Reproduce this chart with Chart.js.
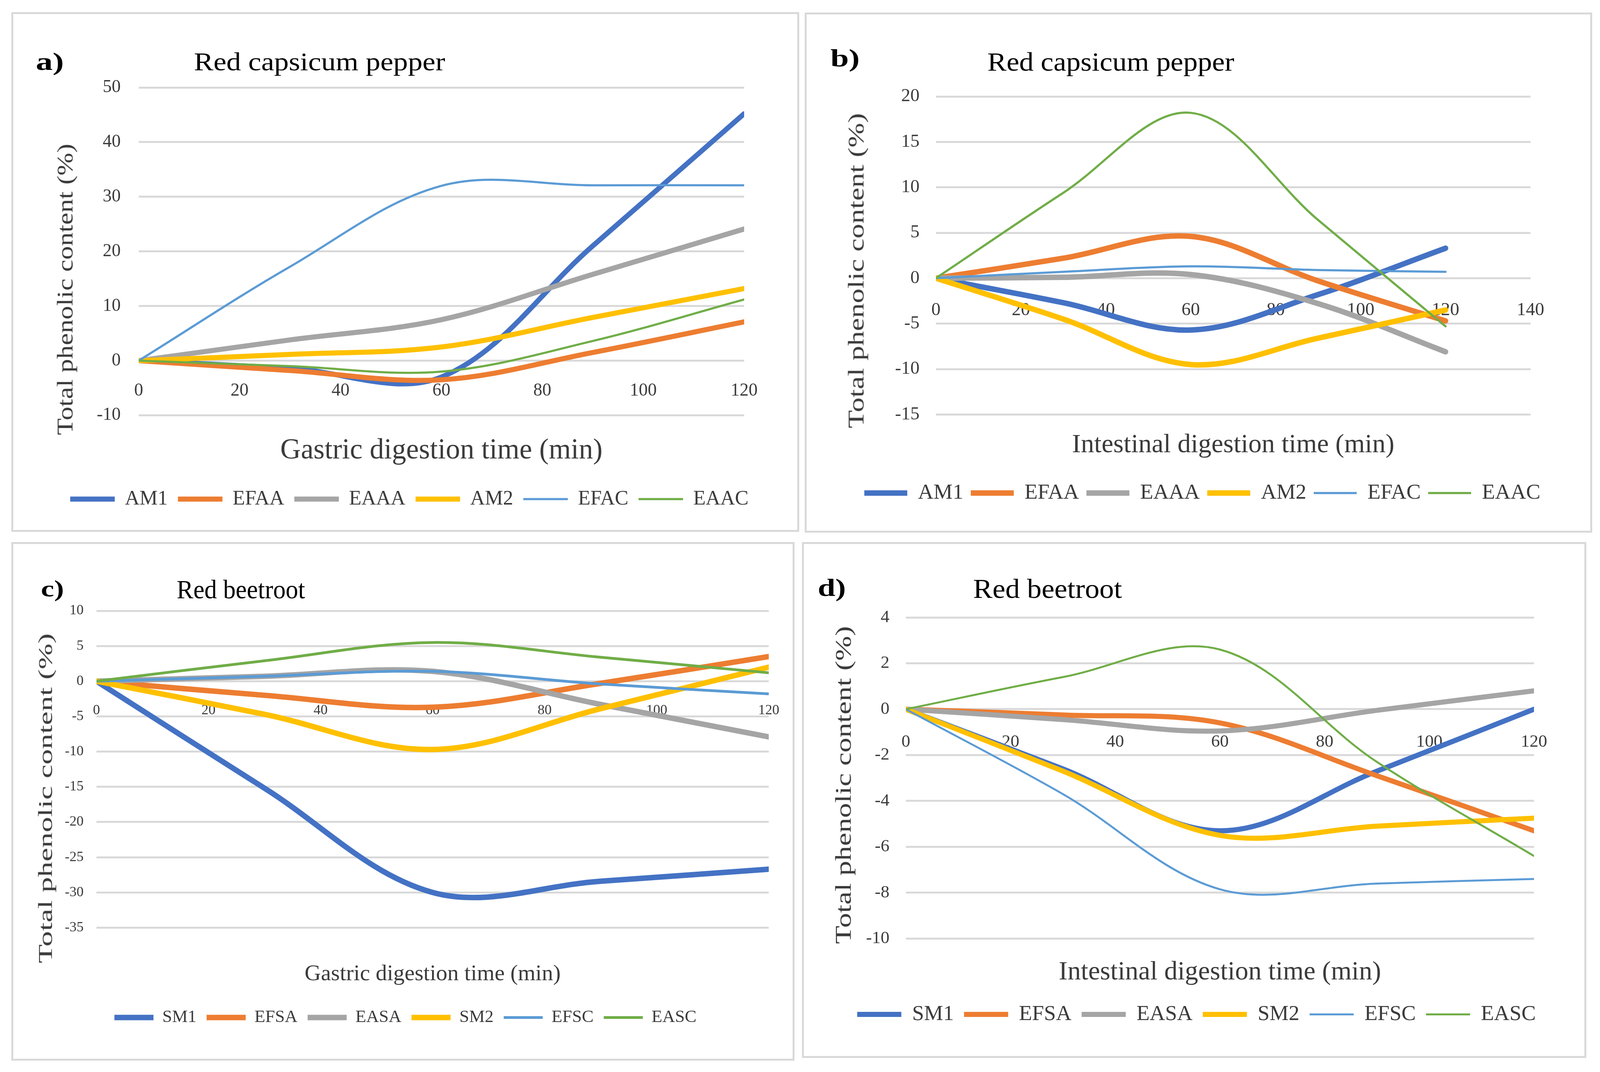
<!DOCTYPE html>
<html><head><meta charset="utf-8">
<script src="https://cdn.jsdelivr.net/npm/chart.js@4.4.1/dist/chart.umd.min.js"></script>
<style>
html,body{margin:0;padding:0;background:#fff;}
body{width:4107px;height:2745px;position:relative;overflow:hidden;font-family:"Liberation Serif",serif;}
.panel{position:absolute;box-sizing:border-box;border:5px solid #d9d9d9;}
canvas{position:absolute;}
.lbl{position:absolute;white-space:nowrap;text-align:center;transform-origin:50% 50%;font-family:"Liberation Serif",serif;}
</style></head><body>
<script>
// ---------------- data ----------------
const TIME_MIN = [0, 30, 60, 90, 120];
const SERIES_PEPPER = ['AM1', 'EFAA', 'EAAA', 'AM2', 'EFAC', 'EAAC'];
const SERIES_BEET = ['SM1', 'EFSA', 'EASA', 'SM2', 'EFSC', 'EASC'];

// a) Red capsicum pepper - gastric
const A_AM1  = [0, -1.4, -3.0, 21.0, 45.2];
const A_EFAA = [0, -1.8, -3.5, 1.5, 7.1];
const A_EAAA = [0, 3.8, 7.5, 15.8, 24.1];
const A_AM2  = [0, 1.15, 2.5, 7.9, 13.2];
const A_EFAC = [0, 17.2, 32.0, 32.1, 32.1];
const A_EAAC = [0, -1.0, -2.0, 3.6, 11.2];

// b) Red capsicum pepper - intestinal
const B_AM1  = [0, -2.7, -5.7, -1.8, 3.3];
const B_EFAA = [0, 2.2, 4.6, -0.3, -4.7];
const B_EAAA = [0, 0.1, 0.4, -2.8, -8.1];
const B_AM2  = [0, -4.5, -9.5, -6.6, -3.5];
const B_EFAC = [0, 0.7, 1.3, 0.9, 0.7];
const B_EAAC = [0, 9.4, 18.2, 6.4, -5.3];

// c) Red beetroot - gastric
const C_SM1  = [0, -15.2, -30.0, -28.4, -26.7];
const C_EFSA = [0, -2.0, -3.7, -0.3, 3.5];
const C_EASA = [0, 0.7, 1.4, -3.3, -7.9];
const C_SM2  = [0, -4.7, -9.7, -3.9, 2.0];
const C_EFSC = [0, 0.7, 1.4, -0.4, -1.8];
const C_EASC = [0, 2.9, 5.5, 3.4, 1.2];

// d) Red beetroot - intestinal
const D_SM1  = [0, -2.6, -5.3, -2.7, 0.0];
const D_EFSA = [0, -0.25, -0.6, -2.9, -5.3];
const D_EASA = [0, -0.45, -0.95, -0.05, 0.8];
const D_SM2  = [0, -2.7, -5.5, -5.1, -4.75];
const D_EFSC = [0, -3.7, -7.85, -7.6, -7.4];
const D_EASC = [0, 1.4, 2.6, -2.3, -6.4];

const Y_TITLE = 'Total phenolic content (%)';
const X_GASTRIC = 'Gastric digestion time (min)';
const X_INTEST = 'Intestinal digestion time (min)';

// ---------------- styles / layout ----------------
const COLORS = ['#4472C4', '#ED7D31', '#A5A5A5', '#FFC000', '#5B9BD5', '#70AD47'];
const TEXT = '#3b3b3b';
Chart.defaults.font.family = '"Liberation Serif", serif';

const PANELS = [
  { box: [29, 31, 2017, 1331], names: SERIES_PEPPER,
    values: [A_AM1, A_EFAA, A_EAAA, A_AM2, A_EFAC, A_EAAC],
    yMin: -10, yMax: 50, yStep: 10, xMax: 120,
    pad: {left: 51, top: 193, right: 30, bottom: 48}, yWidth: 275, xPadRight: 141, yTickPad: 46,
    tickFont: 46, xTickPad: 42, legendFont: 52, legendLine: 114, legendPad: 26,
    xTitle: X_GASTRIC, xTitleFont: 73, xTitlePad: {top: 48, bottom: 27},
    thick: 13, thin: 5.5,
    tag: {t: 'a)', cx: 128, cy: 158, w: 72, size: 64},
    title: {t: 'Red capsicum pepper', cx: 818, cy: 158, w: 643, size: 66},
    ytitle: {cx: 167, cy: 741, w: 746, size: 58} },
  { box: [2060, 32, 2016, 1332], names: SERIES_PEPPER,
    values: [B_AM1, B_EFAA, B_EAAA, B_AM2, B_EFAC, B_EAAC],
    yMin: -15, yMax: 20, yStep: 5, xMax: 140,
    pad: {left: 50, top: 215, right: 30, bottom: 64}, yWidth: 286, xPadRight: 158, yTickPad: 42,
    tickFont: 47, xTickPad: 46, legendFont: 55, legendLine: 110, legendPad: 19,
    xTitle: X_INTEST, xTitleFont: 68, xTitlePad: {top: 38, bottom: 35},
    thick: 14, thin: 5.5,
    tag: {t: 'b)', cx: 2163, cy: 149, w: 75, size: 64},
    title: {t: 'Red capsicum pepper', cx: 2844, cy: 158, w: 632, size: 68},
    ytitle: {cx: 2192, cy: 693, w: 807, size: 58} },
  { box: [29, 1388, 2005, 1328], names: SERIES_BEET,
    values: [C_SM1, C_EFSA, C_EASA, C_SM2, C_EFSC, C_EASC],
    yMin: -35, yMax: 10, yStep: 5, xMax: 120,
    pad: {left: 43, top: 176, right: 30, bottom: 78}, yWidth: 175, xPadRight: 66, yTickPad: 33,
    tickFont: 36, xTickPad: 46, legendFont: 45, legendLine: 100, legendPad: 26,
    xTitle: X_GASTRIC, xTitleFont: 58, xTitlePad: {top: 85, bottom: 27},
    thick: 14, thin: 7,
    tag: {t: 'c)', cx: 134, cy: 1507, w: 59, size: 60},
    title: {t: 'Red beetroot', cx: 617, cy: 1509, w: 329, size: 68},
    ytitle: {cx: 116, cy: 2044, w: 845, size: 50} },
  { box: [2053, 1388, 2008, 1321], names: SERIES_BEET,
    values: [D_SM1, D_EFSA, D_EASA, D_SM2, D_EFSC, D_EASC],
    yMin: -10, yMax: 4, yStep: 2, xMax: 120,
    pad: {left: 42, top: 193, right: 30, bottom: 74}, yWidth: 224, xPadRight: 134, yTickPad: 42,
    tickFont: 45, xTickPad: 49, legendFont: 55, legendLine: 113, legendPad: 26,
    xTitle: X_INTEST, xTitleFont: 68, xTitlePad: {top: 46, bottom: 13},
    thick: 13, thin: 5,
    tag: {t: 'd)', cx: 2129, cy: 1505, w: 72, size: 64},
    title: {t: 'Red beetroot', cx: 2682, cy: 1508, w: 381, size: 70},
    ytitle: {cx: 2159, cy: 2010, w: 814, size: 56} }
];

const measureCtx = document.createElement('canvas').getContext('2d');
function placeText(text, cx, cy, w, size, opts) {
  opts = opts || {};
  const font = (opts.bold ? 'bold ' : '') + size + 'px "Liberation Serif"';
  measureCtx.font = font;
  const mw = measureCtx.measureText(text).width;
  const el = document.createElement('div');
  el.className = 'lbl';
  el.textContent = text;
  el.style.font = font;
  el.style.color = opts.color || '#000';
  el.style.width = mw + 'px';
  el.style.height = size + 'px';
  el.style.lineHeight = size + 'px';
  el.style.left = (cx - mw / 2) + 'px';
  el.style.top = (cy - size / 2) + 'px';
  const s = w / mw;
  el.style.transform = (opts.rot ? 'rotate(' + opts.rot + 'deg) ' : '') + 'scaleX(' + s.toFixed(4) + ')';
  document.body.appendChild(el);
}

function buildPanel(p) {
  const [bx, by, bw, bh] = p.box;
  const frame = document.createElement('div');
  frame.className = 'panel';
  Object.assign(frame.style, {left: bx + 'px', top: by + 'px', width: bw + 'px', height: bh + 'px'});
  document.body.appendChild(frame);

  const cv = document.createElement('canvas');
  cv.width = bw; cv.height = bh;
  Object.assign(cv.style, {left: bx + 'px', top: by + 'px', width: bw + 'px', height: bh + 'px'});
  document.body.appendChild(cv);

  const datasets = p.names.map((name, i) => ({
    label: name,
    data: TIME_MIN.map((t, k) => ({x: t, y: p.values[i][k]})),
    borderColor: COLORS[i],
    backgroundColor: COLORS[i],
    borderWidth: i < 4 ? p.thick : p.thin,
    tension: 0.35,
    pointRadius: 0,
    pointHoverRadius: 0,
    borderCapStyle: 'round',
    borderJoinStyle: 'round',
    fill: false,
    order: -i
  }));

  new Chart(cv, {
    type: 'line',
    data: {datasets},
    options: {
      responsive: false, animation: false, devicePixelRatio: 1,
      layout: {padding: p.pad},
      plugins: {
        tooltip: {enabled: false},
        title: {display: false},
        legend: {
          display: true, position: 'bottom', align: 'center',
          labels: {
            usePointStyle: true, pointStyle: 'line', pointStyleWidth: p.legendLine,
            boxHeight: p.legendFont, font: {size: p.legendFont}, color: TEXT,
            padding: p.legendPad,
            sort: (a, b) => a.datasetIndex - b.datasetIndex
          }
        },
        subtitle: {
          display: true, text: p.xTitle, position: 'bottom', fullSize: false, weight: 500,
          align: 'center', color: TEXT, font: {size: p.xTitleFont, weight: 'normal'},
          padding: p.xTitlePad
        }
      },
      scales: {
        x: {
          type: 'linear', position: {y: 0}, min: 0, max: p.xMax,
          ticks: {stepSize: 20, font: {size: p.tickFont}, color: TEXT, padding: p.xTickPad, maxRotation: 0, autoSkip: false},
          grid: {display: false}, border: {display: false},
          afterFit: (s) => { s.paddingRight = p.xPadRight; }
        },
        y: {
          type: 'linear', position: 'left', min: p.yMin, max: p.yMax,
          ticks: {stepSize: p.yStep, font: {size: p.tickFont}, color: TEXT, padding: p.yTickPad},
          grid: {color: '#d9d9d9', lineWidth: 5, drawTicks: false},
          border: {display: false},
          afterFit: (s) => { s.width = p.yWidth; }
        }
      }
    }
  });

  placeText(p.tag.t, p.tag.cx, p.tag.cy, p.tag.w, p.tag.size, {bold: true});
  placeText(p.title.t, p.title.cx, p.title.cy, p.title.w, p.title.size, {});
  placeText(Y_TITLE, p.ytitle.cx, p.ytitle.cy, p.ytitle.w, p.ytitle.size, {rot: -90, color: TEXT});
}

PANELS.forEach(buildPanel);
</script>
</body></html>
